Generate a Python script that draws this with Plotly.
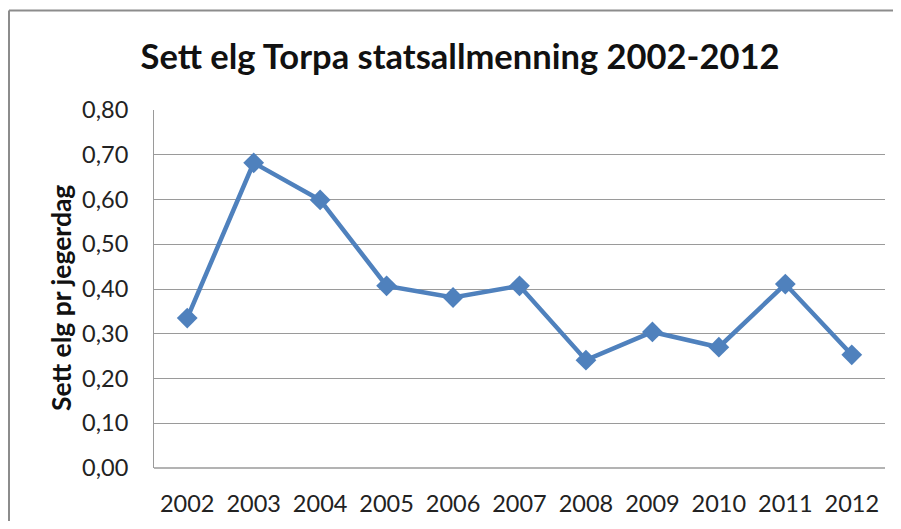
import plotly.graph_objects as go

years = ["2002", "2003", "2004", "2005", "2006", "2007", "2008", "2009", "2010", "2011", "2012"]
sett_elg = [0.335, 0.682, 0.599, 0.407, 0.381, 0.407, 0.241, 0.304, 0.270, 0.411, 0.253]
y_ticks = [0.0, 0.1, 0.2, 0.3, 0.4, 0.5, 0.6, 0.7, 0.8]

# page body has an 8px margin, so figure coords = screen coords - 8
OFF = 8
W, H = 901 - 2 * OFF, 529 - 2 * OFF
L, R, T, B = 154 - OFF, 885 - OFF, 110 - OFF, 468 - OFF
pw, ph = R - L, B - T

fig = go.Figure()
fig.add_trace(go.Scatter(
    x=years, y=sett_elg, mode="lines+markers",
    line=dict(color="#4F81BD", width=4.5),
    marker=dict(symbol="diamond", size=16, color="#4F81BD"),
    showlegend=False, cliponaxis=False,
))

font_family = "Lato, 'Open Sans', sans-serif"
fig.update_layout(
    width=W, height=H,
    margin=dict(l=L, r=W - R, t=T, b=H - B, pad=0, autoexpand=False),
    paper_bgcolor="white", plot_bgcolor="white",
    separators=", ",
    font=dict(family=font_family, color="#222222"),
    title=dict(text="<b>Sett elg Torpa statsallmenning 2002-2012</b>",
               x=(460 - OFF) / W, xanchor="center",
               y=1 - (57 - OFF) / H, yanchor="middle",
               font=dict(size=34.5, color="#111111", family=font_family)),
    xaxis=dict(type="category", range=[-0.5, len(years) - 0.5], automargin=False,
               showgrid=False, showline=False, ticks="",
               tickfont=dict(size=23.5, color="#222222"), ticklabelstandoff=19,
               zeroline=False),
    yaxis=dict(range=[0, 0.8], tickvals=y_ticks, tickformat=".2f", automargin=False,
               showgrid=True, gridcolor="#9a9a9a", gridwidth=1,
               showline=True, linecolor="#9a9a9a", linewidth=1,
               zeroline=False, ticks="", ticklabelstandoff=20,
               tickfont=dict(size=23.5, color="#222222")),
)
# y-axis title
fig.add_annotation(text="<b>Sett elg pr jegerdag</b>", textangle=-90,
                   xref="paper", yref="paper",
                   x=(61 - OFF - L) / pw, y=(B - (298 - OFF)) / ph,
                   xanchor="center", yanchor="middle", showarrow=False,
                   font=dict(size=26.5, color="#111111", family=font_family))
# bottom axis line
fig.add_shape(type="line", xref="paper", yref="paper", x0=0, x1=1, y0=0, y1=0,
              line=dict(color="#9a9a9a", width=1.5), layer="below")
# outer chart frame: only its top and left edges are visible
frame_x0 = (1 - L) / pw
frame_y1 = (B - 2.5) / ph
fig.add_shape(type="line", xref="paper", yref="paper",
              x0=frame_x0, x1=(W - L) / pw, y0=frame_y1, y1=frame_y1,
              line=dict(color="#8c8c8c", width=2))
fig.add_shape(type="line", xref="paper", yref="paper",
              x0=frame_x0, x1=frame_x0, y0=frame_y1, y1=(B - H) / ph,
              line=dict(color="#8c8c8c", width=2))

fig.write_html("out.html")
